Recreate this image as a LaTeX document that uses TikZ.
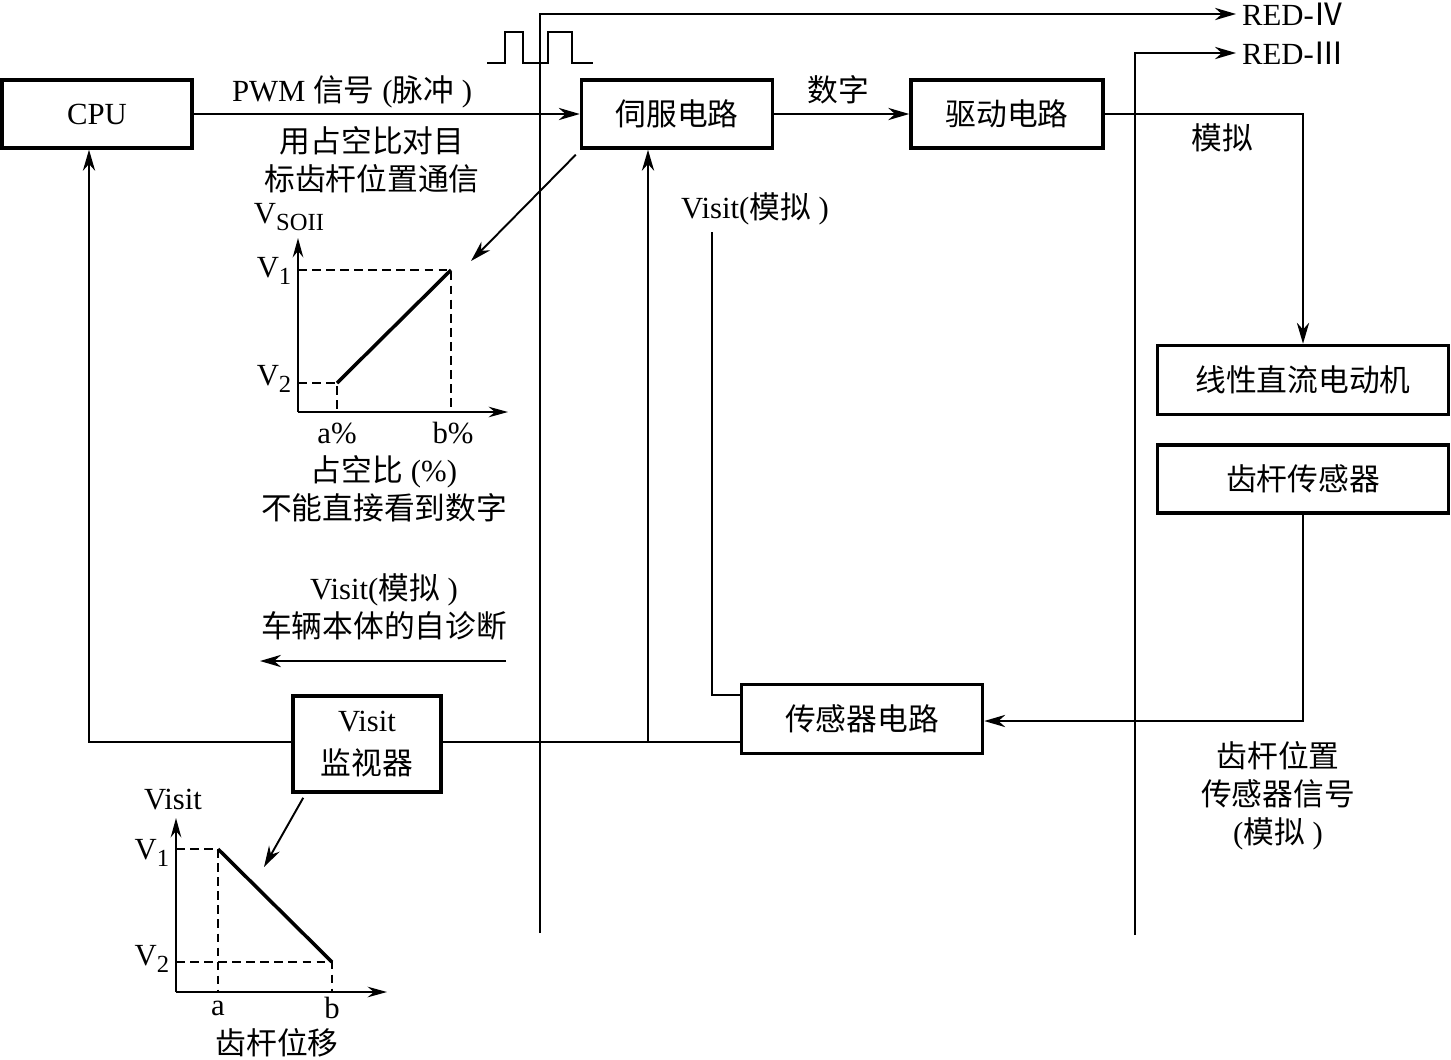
\documentclass[tikz,border=0pt]{standalone}
\usepackage{fontspec}
\setmainfont{Liberation Serif}
\newfontfamily\cjk{Noto Sans CJK SC}
\newcommand{\zh}[1]{{\cjk #1}}
\newcommand{\lowidx}[1]{\raisebox{-0.45ex}{\fontsize{14}{14}\selectfont #1}}
\usetikzlibrary{positioning,arrows.meta}

\begin{document}
\begin{tikzpicture}[
    x=0.02cm, y=-0.02cm,
    every node/.style={font=\fontsize{17.5}{21.5}\selectfont},
    box/.style={draw, line width=2pt, align=center, minimum height=1.36cm, fill=white},
    arr/.style={-{Stealth[length=12pt,width=7pt]}, line width=1.1pt},
    wire/.style={line width=1.1pt},
    axis/.style={-{Stealth[length=11pt,width=6pt]}, line width=1.2pt},
    guide/.style={line width=0.9pt, dash pattern=on 5pt off 3pt},
    curve/.style={line width=2pt},
    lbl/.style={align=center, inner sep=1pt}
  ]
    \useasboundingbox (0,0) rectangle (1451,1059);

    % bus lines to RED
    \coordinate (busA) at (540,933);
    \coordinate (busB) at (1135,935);
    \node[anchor=west, inner sep=1pt] (red4) at (1240,14) {RED-\zh{Ⅳ}};
    \node[anchor=west, inner sep=1pt] (red3) at (1240,53) {RED-\zh{Ⅲ}};
    \draw[arr] (busA) |- ([xshift=-0.08cm]red4.west);
    \draw[arr] (busB) |- ([xshift=-0.08cm]red3.west);

    % pulse
    \draw[wire, line width=1.5pt] (487,63) -- (505,63) -- (505,32) -- (523,32) -- (523,63)
        -- (548,63) -- (548,32) -- (572,32) -- (572,63) -- (593,63);

    % boxes
    \node[box, minimum width=3.8cm] (cpu) at (97,114) {CPU};
    \node[box, minimum width=3.82cm] (servo) at (677,114) {\zh{伺服电路}};
    \node[box, minimum width=3.84cm] (drive) at (1007,114) {\zh{驱动电路}};
    \node[box, minimum width=5.82cm, minimum height=1.38cm] (motor) at (1303,380) {\zh{线性直流电动机}};
    \node[box, minimum width=5.82cm] (rack) at (1303,479) {\zh{齿杆传感器}};
    \node[box, minimum width=4.82cm, minimum height=1.38cm] (sens) at (862,719) {\zh{传感器电路}};
    \node[box, minimum width=2.96cm, minimum height=1.92cm, font=\fontsize{17.5}{24}\selectfont] (mon) at (367,744) {Visit\\\zh{监视器}};

    % labels
    \node[lbl] (pwm) at (352,92) {PWM \zh{信号} (\zh{脉冲} )};
    \node[lbl] (duty) at (372,160) {\zh{用占空比对目}\\\zh{标齿杆位置通信}};
    \node[lbl] (dig) at (838,90) {\zh{数字}};
    \node[lbl] (ana) at (1222,138) {\zh{模拟}};
    \node[lbl] (vis1) at (755,209) {Visit(\zh{模拟} )};
    \node[lbl] (dutyx) at (384,489) {\zh{占空比} (\%)\\\zh{不能直接看到数字}};
    \node[lbl] (diag) at (384,607) {Visit(\zh{模拟} )\\\zh{车辆本体的自诊断}};
    \node[lbl] (rsig) at (1278,796) {\zh{齿杆位置}\\\zh{传感器信号}\\(\zh{模拟} )};

    % connectors
    \draw[arr] (cpu.east) -- (servo.west);
    \draw[arr] (servo) -- (drive);
    \draw[arr] (drive.east) -| (motor.north);
    \draw[arr] (rack.south) |- ([yshift=-0.04cm]sens.east);
    \draw[wire] (mon.east |- 0,742) -- (sens.west |- 0,742);
    \coordinate (tap) at (648,742);
    \draw[arr] (tap) -- (tap |- servo.south);
    \draw[arr] (mon.west |- 0,742) -| ([xshift=-0.16cm]cpu.south);
    \coordinate (vtop) at (712,232);
    \draw[wire] (vtop) |- (sens.west |- 0,695);
    \coordinate (diagL) at (260,661);
    \coordinate (diagR) at (506,661);
    \draw[arr] (diagR) -- (diagL);

    % duty-cycle graph
    \coordinate (g1tip) at (471,261);
    \draw[arr] ([shift={(-0.08cm,-0.1cm)}]servo.south west) -- (g1tip);
    \draw[axis] (298,412) -- (298,238);
    \draw[axis] (298,412) -- (508,412);
    \draw[guide] (298,270) -- (451,270) -- (451,412);
    \draw[guide] (298,383) -- (337,383) -- (337,412);
    \draw[curve] (337,383) -- (451,270);
    \node[inner sep=0pt] (vsoii) at (289,217) {V\lowidx{SOII}};
    \node[inner sep=0pt] (g1v1) at (274,271) {V\lowidx{1}};
    \node[inner sep=0pt] (g1v2) at (274,379) {V\lowidx{2}};
    \node[inner sep=0pt] (g1a) at (337,433) {a\%};
    \node[inner sep=0pt] (g1b) at (453,433) {b\%};

    % displacement graph
    \coordinate (g2tip) at (264,867);
    \draw[arr] ([shift={(0.24cm,-0.08cm)}]mon.south west) -- (g2tip);
    \draw[axis] (176,992) -- (176,818);
    \draw[axis] (176,992) -- (387,992);
    \draw[guide] (176,849) -- (218,849) -- (218,992);
    \draw[guide] (176,962) -- (332,962) -- (332,992);
    \draw[curve] (218,849) -- (332,962);
    \node[inner sep=0pt] (g2vis) at (173,800) {Visit};
    \node[inner sep=0pt] (g2v1) at (152,853) {V\lowidx{1}};
    \node[inner sep=0pt] (g2v2) at (152,959) {V\lowidx{2}};
    \node[inner sep=0pt] (g2a) at (218,1008) {a};
    \node[inner sep=0pt] (g2b) at (332,1008) {b};
    \node[inner sep=0pt] (g2x) at (277,1043) {\zh{齿杆位移}};
\end{tikzpicture}
\end{document}
